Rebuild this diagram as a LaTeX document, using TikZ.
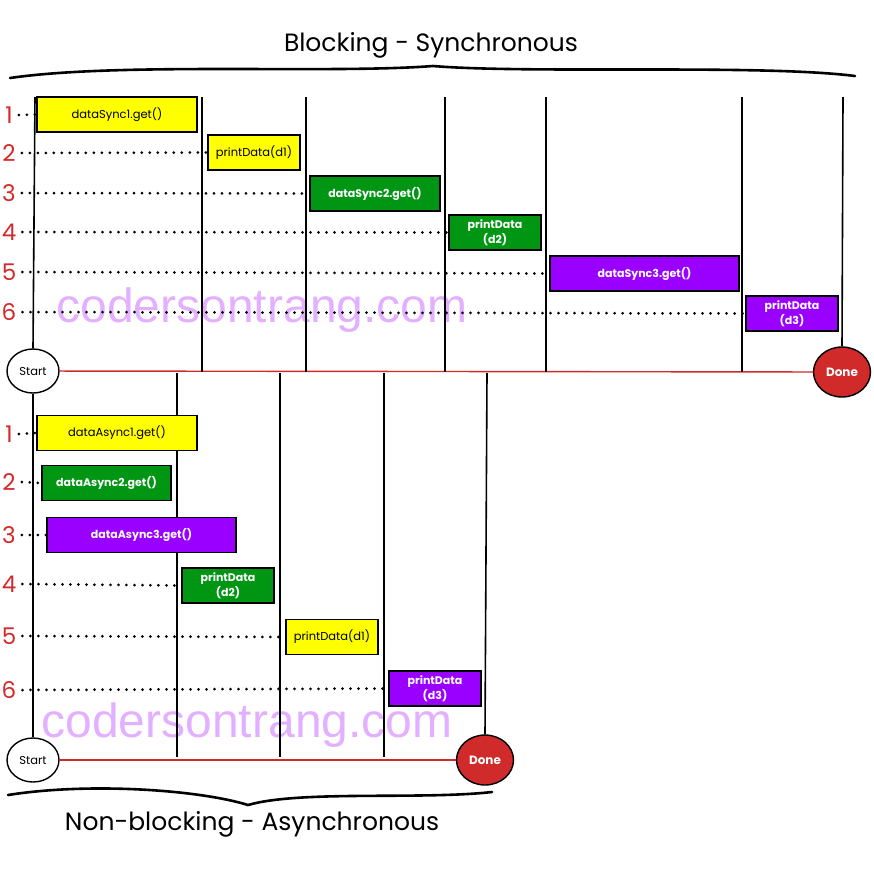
\documentclass[tikz,border=0pt]{standalone}
\usepackage{fontspec}
\setmainfont{Poppins}
\newfontfamily\markfont{Liberation Sans}
\usetikzlibrary{positioning,shapes.geometric}

\definecolor{boxyellow}{RGB}{255,255,0}
\definecolor{boxgreen}{RGB}{0,150,20}
\definecolor{boxpurple}{RGB}{153,0,255}
\definecolor{donered}{RGB}{208,42,42}
\definecolor{numred}{RGB}{214,40,40}
\definecolor{markpink}{RGB}{226,176,255}

\begin{document}
\begin{tikzpicture}
    [x=1pt, y=-1pt,
    lifeline/.style={line width=1.6pt},
    timeline/.style={draw=donered, line width=1.4pt},
    wait/.style={line width=3pt, line cap=round, dash pattern=on 0pt off 8pt},
    brace/.style={line width=2.6pt, line cap=round},
    num/.style={text=numred, font=\fontsize{23}{23}\selectfont, inner sep=0pt},
    call/.style={draw, line width=1.6pt, minimum height=35, inner sep=0pt, align=center,
        font=\fontsize{11.5}{15}\selectfont},
    yel/.style={call, fill=boxyellow},
    grn/.style={call, fill=boxgreen, text=white, font=\fontsize{11}{15}\selectfont\bfseries},
    pur/.style={call, fill=boxpurple, text=white, font=\fontsize{11}{15}\selectfont\bfseries},
    start/.style={draw, ellipse, line width=1.4pt, fill=white, minimum width=52, minimum height=44,
        inner sep=0pt, font=\fontsize{11.5}{11.5}\selectfont},
    done/.style={draw, ellipse, line width=1.4pt, fill=donered, text=white, minimum width=57,
        minimum height=50, inner sep=0pt, font=\fontsize{12}{12}\selectfont\bfseries},
    watermark/.style={text=markpink, font=\markfont\fontsize{48}{48}\selectfont, inner sep=0pt}]
    \useasboundingbox (0,0) rectangle (874,871);

        %% watermarks
    \node[watermark] (W1) at (262,310) {codersontrang.com};
    \node[watermark] (W2) at (247,725) {codersontrang.com};

        %% Blocking - Synchronous
    \node[font=\fontsize{25}{25}\selectfont] (T1) at (431,45) {Blocking - Synchronous};
    \draw[brace] (10,78) .. controls (120,62) and (330,74) .. (433,66)
        .. controls (530,74) and (760,64) .. (855,76);

    \node[start] (S1) at (33,371) {Start};
    \node[done] (D1) at (842,372) {Done};
    \draw[timeline] (S1) to (D1);

    \coordinate (L0) at (35,97);
    \foreach \x [count=\i] in {202,306,445,546,742} {
        \coordinate (U\i) at (\x,97);
        \coordinate (V\i) at (\x,372);
        \draw[lifeline] (U\i) to (V\i);
    }
    \coordinate (U6) at (843,97);
    \draw[lifeline] (L0) to (S1.north);
    \draw[lifeline] (U6) to (D1.north);

    \node[yel] (E1) at (117,114.5) [minimum width=160] {dataSync1.get()};
    \node[yel] (E2) at (254,152.5) [minimum width=92] {printData(d1)};
    \node[grn] (E3) at (375,193.5) [minimum width=130] {dataSync2.get()};
    \node[grn] (E4) at (495,232.5) [minimum width=92] {printData\\(d2)};
    \node[pur] (E5) at (644.5,273.5) [minimum width=189] {dataSync3.get()};
    \node[pur] (E6) at (792,313.5) [minimum width=92] {printData\\(d3)};

    \foreach \y [count=\i] in {115,153,193,232,272,312} {
        \node[num] (N\i) at (9,\y) {\i};
        \draw[wait] ([xshift=6]N\i.east) to (E\i.west);
    }

        %% Non-blocking - Asynchronous
    \node[start] (S2) at (33,760) {Start};
    \node[done] (D2) at (485,760) {Done};
    \draw[timeline] (S2) to (D2);
    \draw[lifeline] (S1.south) to (S2.north);

    \foreach \x [count=\i] in {177,280,384} {
        \coordinate (G\i) at (\x,373);
        \coordinate (H\i) at (\x,757);
        \draw[lifeline] (G\i) to (H\i);
    }
    \coordinate (G4) at (487,373);
    \draw[lifeline] (G4) to (D2.north);

    \node[yel] (F1) at (117,433) [minimum width=160] {dataAsync1.get()};
    \node[grn] (F2) at (106.5,483) [minimum width=129] {dataAsync2.get()};
    \node[pur] (F3) at (141.5,535) [minimum width=189] {dataAsync3.get()};
    \node[grn] (F4) at (228,585.5) [minimum width=92] {printData\\(d2)};
    \node[yel] (F5) at (332,637) [minimum width=92] {printData(d1)};
    \node[pur] (F6) at (435,688.5) [minimum width=92] {printData\\(d3)};

    \foreach \y [count=\i] in {434,482,535,584,636,690} {
        \node[num] (M\i) at (9,\y) {\i};
        \draw[wait] ([xshift=6]M\i.east) to (F\i.west);
    }

    \draw[brace] (8,795) .. controls (90,782) and (200,790) .. (248,805)
        .. controls (300,790) and (420,800) .. (492,792);
    \node[font=\fontsize{25}{25}\selectfont] (T2) at (252,824) {Non-blocking - Asynchronous};
\end{tikzpicture}
\end{document}
